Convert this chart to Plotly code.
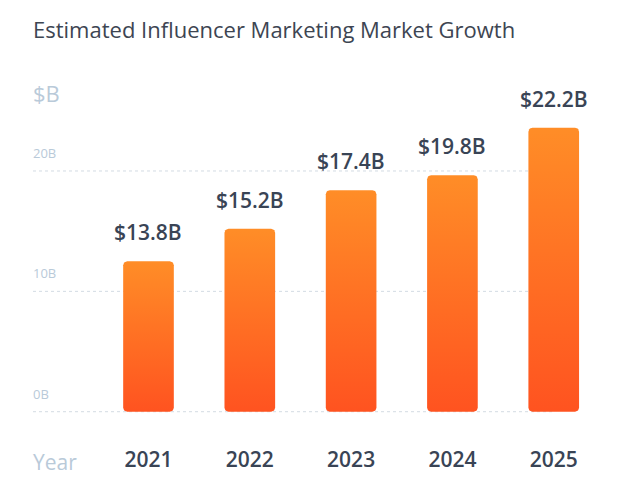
import numpy as np
import plotly.graph_objects as go

# ---- data ----
years = ["2021", "2022", "2023", "2024", "2025"]
bar_values = [12.5, 15.2, 18.4, 19.65, 23.6]          # bar heights ($B)
value_labels = ["$13.8B", "$15.2B", "$17.4B", "$19.8B", "$22.2B"]
grid_values = [0, 10, 20]
grid_labels = ["0B", "10B", "20B"]

# ---- layout constants (page has an 8px body margin) ----
W, H = 630, 492
ML, MR, MT, MB = 25, 33, 52, 60
X_RANGE = [-1.14, 4.506]
Y_RANGE = [-2.35, 29.22]
BAR_HALF = 0.25
RADIUS_PX = 4

FONT = "Open Sans"
DARK = "#394455"
LIGHT = "#b9cad9"
TOP_C = "#ff8d27"
BOT_C = "#ff5320"

px_per_x = (W - ML - MR) / (X_RANGE[1] - X_RANGE[0])
px_per_y = (H - MT - MB) / (Y_RANGE[1] - Y_RANGE[0])
rx = RADIUS_PX / px_per_x
ry = RADIUS_PX / px_per_y


def rounded_rect(cx, top):
    x0, x1, y0, y1 = cx - BAR_HALF, cx + BAR_HALF, 0.0, top
    t = np.linspace(0, np.pi / 2, 8)
    xs, ys = [], []
    for (ccx, ccy, a0) in [(x0 + rx, y0 + ry, np.pi), (x1 - rx, y0 + ry, 1.5 * np.pi),
                           (x1 - rx, y1 - ry, 0.0), (x0 + rx, y1 - ry, 0.5 * np.pi)]:
        ang = a0 + t
        xs.extend(ccx + rx * np.cos(ang))
        ys.extend(ccy + ry * np.sin(ang))
    xs.append(xs[0]); ys.append(ys[0])
    return xs, ys


fig = go.Figure()

shapes = []
for gv in grid_values:
    shapes.append(dict(type="line", xref="x", yref="y", x0=X_RANGE[0], x1=len(years) - 1,
                       y0=gv, y1=gv, line=dict(color="#d3dbe3", width=1, dash="3px,3px"),
                       layer="below"))

for i, (yr, v) in enumerate(zip(years, bar_values)):
    xs, ys = rounded_rect(i, v)
    fig.add_trace(go.Scatter(
        x=xs, y=ys, mode="lines", fill="toself", line=dict(width=0),
        fillgradient=dict(type="vertical", colorscale=[[0, BOT_C], [1, TOP_C]], start=0, stop=v),
        hoverinfo="skip", showlegend=False,
    ))

annotations = []
for i, (v, lab) in enumerate(zip(bar_values, value_labels)):
    annotations.append(dict(x=i, y=v, xref="x", yref="y", text=lab, showarrow=False,
                            yanchor="bottom", yshift=13,
                            font=dict(family=FONT, size=21, color=DARK, weight=600)))
for gv, gl in zip(grid_values, grid_labels):
    annotations.append(dict(x=0, y=gv, xref="paper", yref="y", text=gl, showarrow=False,
                            xanchor="left", yanchor="bottom", yshift=7, xshift=-2,
                            font=dict(family=FONT, size=13, color=LIGHT)))
annotations.append(dict(x=0, y=0.913, xref="paper", yref="paper", text="$B", showarrow=False,
                        xanchor="left", yanchor="middle", xshift=-2,
                        font=dict(family=FONT, size=22, color=LIGHT)))
annotations.append(dict(x=0, y=-0.058, xref="paper", yref="paper", text="Year", showarrow=False,
                        xanchor="left", yanchor="middle", xshift=-2,
                        font=dict(family=FONT, size=21, color=LIGHT)))

fig.update_layout(
    width=W, height=H,
    margin=dict(l=ML, r=MR, t=MT, b=MB),
    paper_bgcolor="white", plot_bgcolor="white",
    title=dict(text="Estimated Influencer Marketing Market Growth", x=0, xref="paper",
               xanchor="left", y=0.955, yanchor="middle",
               font=dict(family=FONT, size=22, color="#3d4552")),
    xaxis=dict(range=X_RANGE, tickmode="array", tickvals=list(range(len(years))), ticktext=years,
               showgrid=False, zeroline=False, showline=False, ticks="",
               tickfont=dict(family=FONT, size=21, color=DARK, weight=600),
               ticklabelstandoff=5, fixedrange=True),
    yaxis=dict(range=Y_RANGE, showgrid=False, zeroline=False, showticklabels=False,
               fixedrange=True),
    shapes=shapes, annotations=annotations, showlegend=False,
)

fig.write_html("out.html")
